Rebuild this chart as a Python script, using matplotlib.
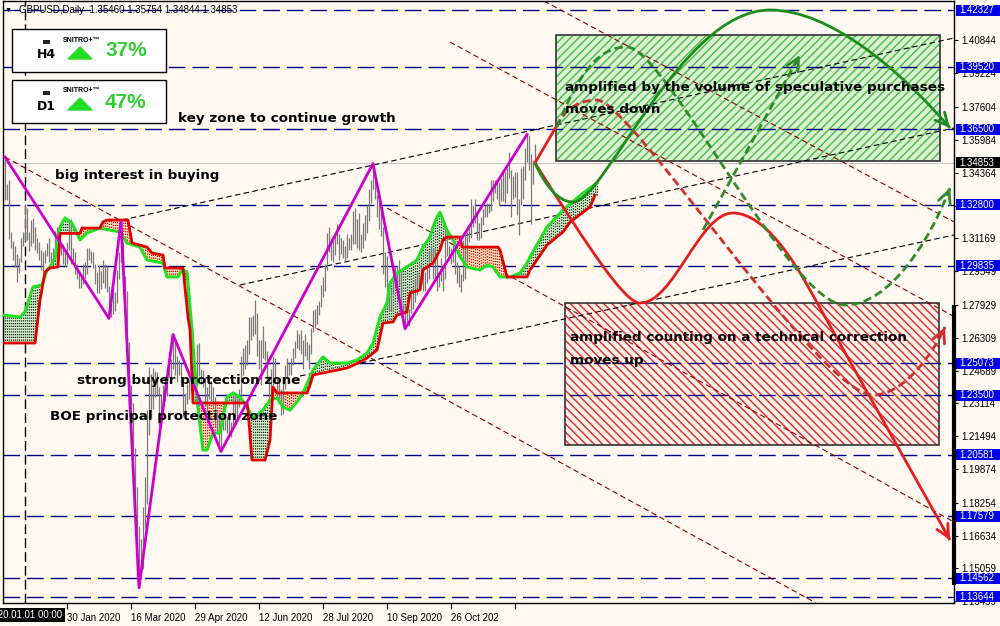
import numpy as np
import matplotlib
matplotlib.use("Agg")
import matplotlib.pyplot as plt
from matplotlib.patches import Rectangle, Polygon, PathPatch, FancyArrowPatch
from matplotlib.path import Path
from matplotlib.transforms import Affine2D

plt.rcParams['font.family'] = ['Liberation Sans', 'DejaVu Sans']

# daily bars, GBPUSD 13 Dec 2019 .. 23 Dec 2020 (bar index 0..265)
highs = [
    1.3514, 1.3384, 1.3400, 1.3147, 1.3106, 1.3077, 1.3041, 1.3020, 1.3118, 1.3146,
    1.3284, 1.3266, 1.3150, 1.3207, 1.3214, 1.3170, 1.3118, 1.3098, 1.3060, 1.3052,
    1.3060, 1.3093, 1.3118, 1.3048, 1.3068, 1.3152, 1.3173, 1.3122, 1.3100, 1.3090,
    1.3055, 1.3100, 1.3208, 1.3209, 1.3070, 1.3050, 1.2990, 1.2960, 1.2939, 1.2990,
    1.3000, 1.3070, 1.3069, 1.3055, 1.3050, 1.2990, 1.2950, 1.2985, 1.2955, 1.3010,
    1.2990, 1.2980, 1.2885, 1.2860, 1.2875, 1.2855, 1.2960, 1.3051, 1.3200, 1.3100,
    1.2935, 1.2860, 1.2609, 1.2400, 1.2310, 1.2090, 1.1900, 1.1710, 1.1648, 1.1802,
    1.1950, 1.2280, 1.2486, 1.2452, 1.2485, 1.2470, 1.2465, 1.2390, 1.2355, 1.2400,
    1.2440, 1.2485, 1.2505, 1.2525, 1.2647, 1.2615, 1.2540, 1.2520, 1.2509, 1.2428,
    1.2362, 1.2407, 1.2420, 1.2449, 1.2485, 1.2477, 1.2601, 1.2606, 1.2480, 1.2474,
    1.2440, 1.2390, 1.2433, 1.2417, 1.2391, 1.2340, 1.2275, 1.2250, 1.2240, 1.2295,
    1.2262, 1.2250, 1.2240, 1.2220, 1.2350, 1.2350, 1.2334, 1.2382, 1.2540, 1.2581,
    1.2595, 1.2620, 1.2734, 1.2730, 1.2740, 1.2813, 1.2750, 1.2620, 1.2620, 1.2690,
    1.2613, 1.2568, 1.2445, 1.2476, 1.2540, 1.2530, 1.2435, 1.2425, 1.2380, 1.2410,
    1.2500, 1.2530, 1.2510, 1.2530, 1.2580, 1.2615, 1.2670, 1.2650, 1.2667, 1.2620,
    1.2650, 1.2610, 1.2600, 1.2680, 1.2768, 1.2770, 1.2790, 1.2810, 1.2890, 1.2930,
    1.2990, 1.3144, 1.3170, 1.3120, 1.3110, 1.3140, 1.3185, 1.3140, 1.3120, 1.3110,
    1.3080, 1.3140, 1.3120, 1.3140, 1.3250, 1.3267, 1.3210, 1.3240, 1.3140, 1.3190,
    1.3230, 1.3280, 1.3360, 1.3400, 1.3482, 1.3420, 1.3330, 1.3300, 1.3280, 1.3170,
    1.3050, 1.3030, 1.2840, 1.2870, 1.2980, 1.2980, 1.2980, 1.3010, 1.2960, 1.2800,
    1.2790, 1.2780, 1.2770, 1.2850, 1.2880, 1.2920, 1.2950, 1.2940, 1.2990, 1.2970,
    1.2950, 1.2980, 1.3060, 1.3080, 1.3070, 1.3070, 1.3050, 1.2950, 1.3020, 1.2980,
    1.3175, 1.3150, 1.3080, 1.3070, 1.3090, 1.3070, 1.3000, 1.2980, 1.2940, 1.3110,
    1.3140, 1.3150, 1.3180, 1.3310, 1.3280, 1.3310, 1.3240, 1.3190, 1.3220, 1.3260,
    1.3280, 1.3290, 1.3290, 1.3400, 1.3400, 1.3400, 1.3390, 1.3390, 1.3410, 1.3440,
    1.3440, 1.3460, 1.3539, 1.3450, 1.3420, 1.3440, 1.3440, 1.3310, 1.3460, 1.3470,
    1.3560, 1.3624, 1.3620, 1.3530, 1.3500, 1.35754,
]
lows = [
    1.3302, 1.3303, 1.3115, 1.3071, 1.3009, 1.2976, 1.2905, 1.2947, 1.3000, 1.3080,
    1.3105, 1.3110, 1.3055, 1.3080, 1.3096, 1.3060, 1.3047, 1.3013, 1.2961, 1.2956,
    1.2995, 1.3030, 1.3003, 1.2992, 1.2970, 1.3005, 1.3095, 1.3050, 1.3034, 1.2990,
    1.2975, 1.2990, 1.3060, 1.2991, 1.2987, 1.2940, 1.2920, 1.2873, 1.2872, 1.2895,
    1.2925, 1.2940, 1.3010, 1.2995, 1.2970, 1.2895, 1.2848, 1.2851, 1.2870, 1.2900,
    1.2874, 1.2855, 1.2725, 1.2730, 1.2745, 1.2760, 1.2800, 1.2918, 1.3000, 1.2843,
    1.2813, 1.2530, 1.2330, 1.2183, 1.2050, 1.1790, 1.1449, 1.1409, 1.1453, 1.1500,
    1.1700, 1.1820, 1.2155, 1.2240, 1.2285, 1.2340, 1.2350, 1.2200, 1.2210, 1.2250,
    1.2320, 1.2345, 1.2440, 1.2436, 1.2480, 1.2450, 1.2413, 1.2450, 1.2405, 1.2248,
    1.2253, 1.2309, 1.2330, 1.2372, 1.2391, 1.2404, 1.2401, 1.2442, 1.2406, 1.2391,
    1.2300, 1.2267, 1.2332, 1.2322, 1.2291, 1.2193, 1.2165, 1.2110, 1.2075, 1.2178,
    1.2180, 1.2165, 1.2160, 1.2145, 1.2190, 1.2207, 1.2240, 1.2290, 1.2340, 1.2450,
    1.2480, 1.2497, 1.2550, 1.2620, 1.2640, 1.2650, 1.2540, 1.2480, 1.2400, 1.2530,
    1.2520, 1.2420, 1.2330, 1.2345, 1.2400, 1.2410, 1.2330, 1.2305, 1.2252, 1.2260,
    1.2380, 1.2440, 1.2450, 1.2450, 1.2500, 1.2530, 1.2580, 1.2570, 1.2550, 1.2480,
    1.2540, 1.2520, 1.2480, 1.2550, 1.2660, 1.2680, 1.2700, 1.2740, 1.2780, 1.2830,
    1.2860, 1.2960, 1.3050, 1.3010, 1.3000, 1.3035, 1.3090, 1.3010, 1.3040, 1.3020,
    1.3000, 1.3020, 1.3060, 1.3060, 1.3090, 1.3090, 1.3070, 1.3060, 1.3050, 1.3070,
    1.3110, 1.3145, 1.3200, 1.3290, 1.3360, 1.3310, 1.3220, 1.3160, 1.3130, 1.2940,
    1.2880, 1.2770, 1.2760, 1.2760, 1.2840, 1.2880, 1.2860, 1.2890, 1.2770, 1.2690,
    1.2675, 1.2690, 1.2690, 1.2750, 1.2770, 1.2805, 1.2840, 1.2880, 1.2900, 1.2860,
    1.2860, 1.2900, 1.2920, 1.3010, 1.2920, 1.2920, 1.2860, 1.2880, 1.2910, 1.2860,
    1.2920, 1.3030, 1.3010, 1.2990, 1.3000, 1.2940, 1.2900, 1.2880, 1.2855, 1.2910,
    1.2920, 1.3000, 1.3100, 1.3120, 1.3170, 1.3190, 1.3110, 1.3110, 1.3120, 1.3180,
    1.3220, 1.3220, 1.3240, 1.3250, 1.3300, 1.3340, 1.3310, 1.3280, 1.3300, 1.3300,
    1.3290, 1.3340, 1.3410, 1.3220, 1.3310, 1.3320, 1.3230, 1.3135, 1.3280, 1.3310,
    1.3400, 1.3490, 1.3450, 1.3188, 1.3380, 1.34844,
]
last_price = 1.34853

# zigzag swing points (bar index, price)
zz_idx = [0, 52, 58, 67, 84, 108, 184, 200, 261]
zz_price = [1.3514, 1.2725, 1.3200, 1.1409, 1.2647, 1.2075, 1.3482, 1.2675, 1.3624]

# cloud lines (bar index, price)
red_x = [-1.5, 15, 17.5, 20, 22.5, 26.5, 27.5, 37.5, 38.5, 47.5, 49, 51, 61.5, 63.5, 71, 73.5, 79, 80,
         89, 91.5, 92.5, 93.5, 94, 121, 121.5, 123.5, 130, 132.5, 134, 136, 151, 152.5, 154, 171,
         176.5, 181, 186, 189, 194, 196, 201, 202.5, 207.5, 209, 214, 217.5, 219, 221, 227.5, 228.5,
         246.5, 247.5, 251, 261, 262.5, 271, 279, 282.5, 292.5, 295]
red_y = [1.2605, 1.2605, 1.2815, 1.2952, 1.2972, 1.2977, 1.3141, 1.3141, 1.3167, 1.3167, 1.3197, 1.3206,
         1.3206, 1.3094, 1.3074, 1.3045, 1.3035, 1.2972, 1.2972, 1.2732, 1.2669, 1.2439, 1.2312, 1.2312,
         1.2277, 1.2033, 1.2033, 1.2131, 1.2390, 1.2361, 1.2361, 1.2400, 1.2449, 1.2483, 1.2507, 1.2532,
         1.2571, 1.2703, 1.2708, 1.2742, 1.2757, 1.2850, 1.2864, 1.2962, 1.2996, 1.3060, 1.3109, 1.3123,
         1.3123, 1.3074, 1.3074, 1.3060, 1.2928, 1.2928, 1.2962, 1.3084, 1.3148, 1.3196, 1.3270, 1.3328]
green_x = [-1.5, 7.5, 10, 14, 18.5, 21, 22.5, 25, 27.5, 30, 33.5, 37.5, 41, 47.5, 52.5, 57.5, 61, 67.5,
           71, 79, 81, 86.5, 88.5, 91, 93.5, 96, 99, 101, 104, 107.5, 111, 114, 117.5, 121, 124, 129,
           132.5, 136, 139, 142.5, 146, 149, 154, 159, 162.5, 171, 176, 181, 184, 187.5, 191, 192.5,
           196, 201, 206, 209, 212.5, 214, 216, 217.5, 219, 221, 224, 227.5, 231, 237.5, 241, 244,
           247.5, 252.5, 257.5, 261, 262.5, 271, 279, 289, 296]
green_y = [1.2742, 1.2732, 1.2757, 1.2879, 1.2889, 1.2962, 1.2977, 1.3021, 1.3172, 1.3216, 1.3192,
           1.3109, 1.3143, 1.3167, 1.3157, 1.3148, 1.3094, 1.3074, 1.3011, 1.2996, 1.2928, 1.2928,
           1.2962, 1.2952, 1.2669, 1.2327, 1.2082, 1.2082, 1.2165, 1.2165, 1.2341, 1.2361, 1.2341,
           1.2292, 1.2238, 1.2277, 1.2327, 1.2337, 1.2292, 1.2277, 1.2317, 1.2361, 1.2473, 1.2537,
           1.2507, 1.2507, 1.2522, 1.2556, 1.2605, 1.2732, 1.2801, 1.2898, 1.2947, 1.2977, 1.3011,
           1.3074, 1.3123, 1.3172, 1.3221, 1.3245, 1.3206, 1.3157, 1.3109, 1.3026, 1.2977, 1.2962,
           1.2986, 1.2977, 1.2928, 1.2928, 1.2947, 1.2996, 1.3026, 1.3172, 1.3255, 1.3338, 1.3387]

# horizontal levels and axis ticks
levels = [1.42327, 1.39520, 1.36500, 1.32800, 1.29835, 1.25073, 1.23500, 1.20581, 1.17579, 1.14562, 1.13644]
price_ticks = [1.40844, 1.39224, 1.37604, 1.35984, 1.34364, 1.32744, 1.31169, 1.29549, 1.27929,
               1.26309, 1.24689, 1.23114, 1.21494, 1.19874, 1.18254, 1.16634, 1.15059, 1.13439]
hidden_ticks = [1.32744]
date_ticks = [31, 63, 95, 127, 159, 191, 223, 255]
date_labels = ['30 Jan 2020', '16 Mar 2020', '29 Apr 2020', '12 Jun 2020', '28 Jul 2020',
               '10 Sep 2020', '26 Oct 202', '']
cursor_idx = 10

# trend lines: (idx0, price0, idx1, price1)
red_rays = [(0, 1.35142, 405.5, 1.13344), (191, 1.32649, 474.5, 1.17302),
            (222.5, 1.40763, 474.5, 1.27347), (269.5, 1.42767, 474.5, 1.31965)]
black_rays = [(58.5, 1.32063, 474.5, 1.40958), (117.5, 1.28886, 474.5, 1.36560),
              (147.5, 1.24438, 474.5, 1.31330)]

# scenario zones: idx0, idx1, price_low, price_high
green_zone = (275.5, 467.5, 1.34969, 1.41105)
red_zone = (280, 467, 1.21066, 1.28006)

# projected paths (bezier control points, bar index / price)
red_link = [(265, 1.34853), (275.5, 1.36609)]
red_solid = [(265, 1.34853), (292.5, 1.30597), (310, 1.28006), (317.5, 1.28006), (334.5, 1.28006),
             (347, 1.32405), (364, 1.32405), (380, 1.32405), (395, 1.29961), (402.5, 1.28641),
             (472.5, 1.16423)]
red_dashed = [(275.5, 1.36609), (280, 1.37537), (287.5, 1.37928), (296, 1.37928), (312.5, 1.37928),
              (407.5, 1.23509), (434, 1.23509), (450, 1.23509), (465, 1.25709), (470, 1.26833)]
green_solid = [(265, 1.34853), (270, 1.33774), (276.5, 1.32943), (284, 1.32943), (300, 1.32943),
               (337.5, 1.42327), (382.5, 1.42327), (412.5, 1.42327), (447.5, 1.39394), (472.5, 1.36560)]
green_dashed = [(276, 1.36609), (287.5, 1.39394), (297.5, 1.40519), (311, 1.40519), (330, 1.40519),
                (392.5, 1.27909), (420, 1.27909), (442.5, 1.27909), (462.5, 1.31085), (472.5, 1.33627)]
green_straight = [(349, 1.31574), (397.5, 1.40128)]

BG = '#FFF9F2'
fig = plt.figure(figsize=(10, 6.26), dpi=100, facecolor=BG)
ax = fig.add_axes([0.003, 23 / 626, 0.951, 602 / 626], facecolor=BG)
ax.set_xlim(-1, 474.5)
ax.set_ylim(1.13344, 1.42767)

# zones
for (x0, x1, p0, p1), fc, hc, hatch in [(green_zone, '#D8F2CF', '#4DB84D', '////'),
                                         (red_zone, '#FCF1EA', '#E02828', '\\\\\\\\')]:
    ax.add_patch(Rectangle((x0, p0), x1 - x0, p1 - p0, facecolor=fc, edgecolor=hc,
                           hatch=hatch, lw=0, zorder=1))
    ax.add_patch(Rectangle((x0, p0), x1 - x0, p1 - p0, fill=False, edgecolor='#333333',
                           lw=1.2, zorder=1.1))

# levels, bid line, trend lines
for lvl in levels:
    ax.axhline(lvl, color='#000080', lw=1, dashes=(12, 5), zorder=2)
ax.axhline(last_price, color='#C8C8C8', lw=0.8, zorder=1.5)
for x0, p0, x1, p1 in red_rays:
    ax.plot([x0, x1], [p0, p1], color='#8B0000', lw=0.8, dashes=(5, 3), zorder=2)
for x0, p0, x1, p1 in black_rays:
    ax.plot([x0, x1], [p0, p1], color='black', lw=0.8, dashes=(5, 3), zorder=2)
ax.axvline(cursor_idx, color='black', lw=1, dashes=(7, 3), zorder=2)

# cloud
grid = np.arange(-1.5, 296.01, 0.5)
r = np.interp(grid, red_x, red_y)
g = np.interp(grid, green_x, green_y)
ax.fill_between(grid, r, g, where=g >= r, interpolate=True, facecolor='#D2F5C8', lw=0, zorder=2.2)
ax.fill_between(grid, r, g, where=g < r, interpolate=True, facecolor='#FFE6C0', lw=0, zorder=2.2)
bars = np.arange(-1, 297)
rb = np.interp(bars, red_x, red_y)
gb = np.interp(bars, green_x, green_y)
up = gb >= rb
ax.vlines(bars[up], rb[up], gb[up], colors='#1A1A1A', lw=0.9, linestyles=(0, (1, 1.2)), zorder=2.3)
ax.vlines(bars[~up], gb[~up], rb[~up], colors='#E00000', lw=0.9, linestyles=(0, (1, 1.2)), zorder=2.3)

# price bars
idx = np.arange(len(highs))
ax.vlines(idx, lows, highs, colors='#7A7A7A', lw=0.9, zorder=2.5)

ax.plot(green_x, green_y, color='#22E022', lw=2.2, zorder=3)
ax.plot(red_x, red_y, color='#E00000', lw=2, zorder=3.1)
ax.plot(zz_idx, zz_price, color='#CC00CC', lw=2, zorder=3.5)


def bezier_path(pts):
    n = len(pts)
    codes = [Path.MOVETO] + [Path.CURVE4] * (n - 1)
    if (n - 1) % 3:
        codes = [Path.MOVETO] + [Path.CURVE4] * (n - 2) + [Path.LINETO]
    return Path(pts, codes)


def projection(pts, color, dashed, head=True):
    path = bezier_path(pts) if len(pts) > 2 else Path(pts)
    ls = (0, (3, 1.5)) if dashed else '-'
    ax.add_patch(PathPatch(path, fill=False, edgecolor=color, lw=2, zorder=4,
                           capstyle='butt', linestyle=ls))
    if head:
        (xa, ya), (xb, yb) = pts[-2], pts[-1]
        start = (xb - 0.05 * (xb - xa), yb - 0.05 * (yb - ya))
        ax.add_patch(FancyArrowPatch(start, (xb, yb), arrowstyle='->,head_length=0.9,head_width=0.45',
                                     mutation_scale=10, color=color, lw=2, shrinkA=0, shrinkB=0,
                                     zorder=4))


projection(red_link, '#E02020', False, head=False)
projection(red_solid, '#E02020', False)
projection(red_dashed, '#C83232', True)
projection(green_solid, '#1E8C1E', False)
projection(green_dashed, '#2E8B2E', True)
projection(green_straight, '#2E8B2E', True)

# notes
note_kw = dict(fontsize=9.7, family='DejaVu Sans', fontweight='bold', color='black',
               va='center', ha='left', zorder=6)
ax.text(86.5, 1.37048, 'key zone to continue growth', **note_kw)
ax.text(25, 1.34214, 'big interest in buying', **note_kw)
ax.text(36, 1.24243, 'strong buyer protection zone', **note_kw)
ax.text(22.5, 1.22435, 'BOE principal protection zone', **note_kw)
ax.text(280, 1.38515, 'amplified by the volume of speculative purchases', **note_kw)
ax.text(280, 1.37440, 'moves down', **note_kw)
ax.text(282.5, 1.26296, 'amplified counting on a technical correction', **note_kw)
ax.text(282.5, 1.25220, 'moves up', **note_kw)

# axes, ticks
for s in ax.spines.values():
    s.set_color('black')
    s.set_linewidth(1)
ax.yaxis.tick_right()
ax.set_yticks(price_ticks)
ax.set_yticklabels(['' if p in hidden_ticks else f'{p:.5f}' for p in price_ticks])
ax.tick_params(axis='y', length=3, pad=2, labelsize=7, width=0.8)
ax.set_xticks(date_ticks)
ax.set_xticklabels(date_labels, ha='left')
ax.tick_params(axis='x', length=4, pad=3, labelsize=7, width=0.8)

# price labels on the right scale
ytr = ax.get_yaxis_transform()
box_h = 11 * (1.42767 - 1.13344) / 602
for lvl, fc in [(p, '#0000E6') for p in levels] + [(last_price, 'black')]:
    ax.add_patch(Rectangle((1.0021, lvl - box_h / 2), 0.05, box_h, transform=ytr, facecolor=fc,
                           edgecolor='none', clip_on=False, zorder=6.5))
    ax.text(1.0055, lvl, f'{lvl:.5f}', transform=ytr, ha='left', va='center', fontsize=7,
            color='white', clip_on=False, zorder=7)
ax.plot([474.5, 474.5], [1.27909, 1.14224], color='black', lw=3, clip_on=False,
        solid_capstyle='butt', zorder=7)
ax.text(cursor_idx, -0.02, '2020.01.01 00:00', transform=ax.get_xaxis_transform(), ha='center',
        va='center', fontsize=7, color='white', clip_on=False, zorder=7,
        bbox=dict(boxstyle='square,pad=0.2', facecolor='black', edgecolor='none'))

# header and signal panels, in pixel coordinates from top left
pix = Affine2D().scale(1, -1).translate(0, 626)
fig.text(5, 10, '\u25bc', transform=pix, fontsize=5, va='center', ha='left')
fig.text(19, 10, 'GBPUSD,Daily  1.35460 1.35754 1.34844 1.34853', transform=pix,
         fontsize=7, va='center', ha='left')
for top, tf, pct in [(29, 'H4', '37%'), (80, 'D1', '47%')]:
    fig.add_artist(Rectangle((12, top), 154, 43, transform=pix, facecolor='white',
                             edgecolor='black', lw=1))
    fig.add_artist(Rectangle((43, top + 11), 7, 4, transform=pix, facecolor='#222222', lw=0))
    fig.text(46, top + 26, tf, transform=pix, fontsize=9, fontweight='bold', ha='center',
             va='center', family='DejaVu Sans')
    fig.text(63, top + 11, 'SNITRO+\u2122', transform=pix, fontsize=5, fontweight='bold',
             ha='left', va='center')
    fig.add_artist(Polygon([(68, top + 30), (92, top + 30), (80, top + 18)], closed=True,
                           transform=pix, facecolor='#22DD22', edgecolor='#22DD22'))
    fig.text(105, top + 22, pct, transform=pix, fontsize=15, fontweight='bold', color='#33CC33',
             ha='left', va='center')

fig.savefig('out.png', dpi=100, facecolor=BG)
